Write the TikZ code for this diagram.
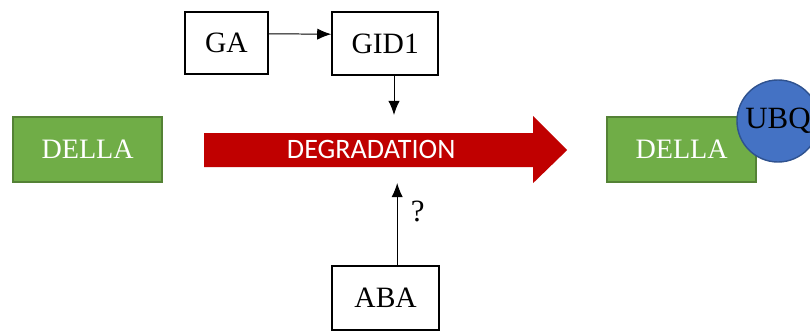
\documentclass[tikz,border=0pt]{standalone}
\usepackage{fontspec}
\setmainfont{Liberation Serif}
\newfontfamily\calibri{Carlito}
\usetikzlibrary{arrows.meta,positioning}
\definecolor{dellagreen}{HTML}{70AD47}
\definecolor{dellaedge}{HTML}{548235}
\definecolor{degrred}{HTML}{C00000}
\definecolor{ubqblue}{HTML}{4472C4}
\definecolor{ubqedge}{HTML}{2F528F}
\tikzset{
  box/.style={draw,line width=1.3pt,minimum height=1.57cm,
    font=\fontsize{21}{24}\selectfont},
  della/.style={fill=dellagreen,draw=dellaedge,line width=1pt,text=white,
    minimum width=3.72cm,minimum height=1.62cm,
    font=\fontsize{20}{24}\selectfont},
  link/.style={-{Latex[length=10pt,width=8pt]},line width=0.7pt}
}
\begin{document}
\begin{tikzpicture}
  \useasboundingbox (0,0) rectangle (20.25,8.275);
  % left and right DELLA
  \node[della] (della1) at (2.19,4.54) {DELLA};
  \node[della] (della2) at (17.04,4.54) {DELLA};
  \node[circle,fill=ubqblue,draw=ubqedge,line width=1pt,minimum size=2.05cm,
    inner sep=0pt,font=\fontsize{22}{26}\selectfont] (ubq) at (19.45,5.25) {UBQ};
  % degradation arrow
  \fill[degrred] (5.1,4.1) -- (13.33,4.1) -- (13.33,3.7) -- (14.18,4.525)
    -- (13.33,5.375) -- (13.33,4.95) -- (5.1,4.95) -- cycle;
  \node[text=white,font=\calibri\fontsize{20}{24}\selectfont] (degr) at (9.28,4.53) {DEGRADATION};
  % regulators
  \node[box,minimum width=2.08cm] (ga) at (5.66,7.2) {GA};
  \node[box,minimum width=2.65cm] (gid) at (9.63,7.19) {GID1};
  \node[box,minimum width=2.68cm,minimum height=1.6cm] (aba) at (9.64,0.83) {ABA};
  \coordinate (gidend) at (9.85,5.4);
  \coordinate (abaend) at (9.93,3.7);
  \draw[link] ([yshift=0.23cm]ga.east) -- ([yshift=0.23cm]gid.west);
  \draw[link] (gid.south -| gidend) -- (gidend);
  \draw[link] (aba.north -| abaend) -- (abaend)
    node[pos=0.65,right=6pt,font=\fontsize{22}{26}\selectfont] {?};
\end{tikzpicture}
\end{document}
